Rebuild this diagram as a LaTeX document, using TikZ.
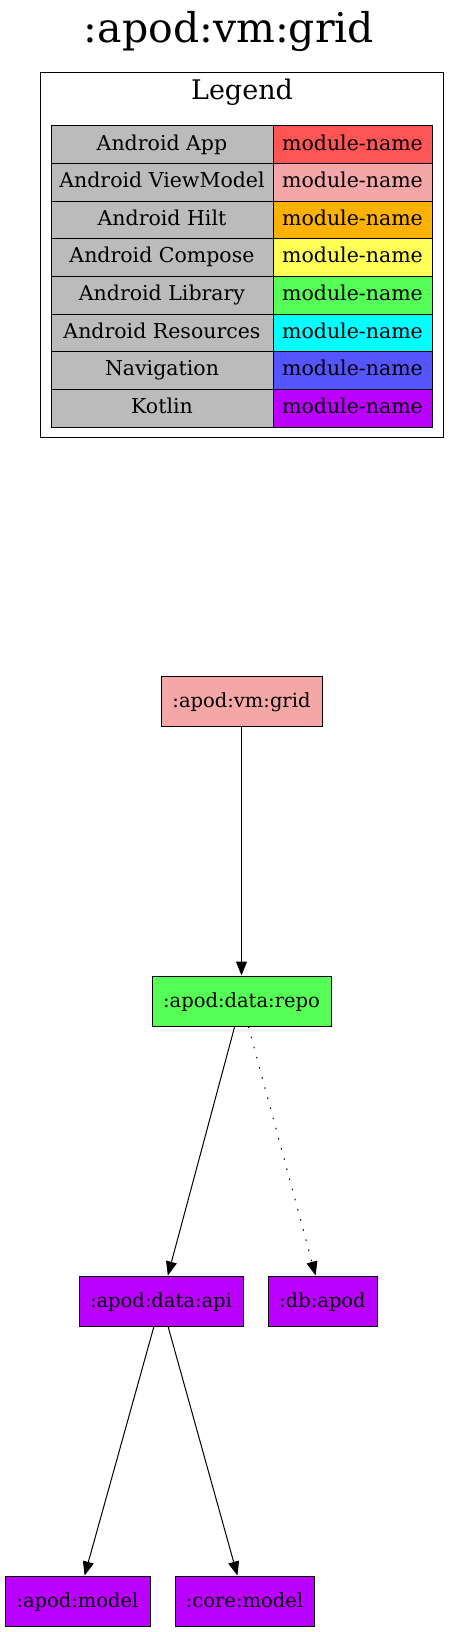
\documentclass[tikz,border=0pt]{standalone}
\usepackage{fontspec}
\setmainfont{DejaVu Serif}
\usetikzlibrary{arrows.meta}
\definecolor{cApp}{HTML}{FF5555}
\definecolor{cVM}{HTML}{F5A6A6}
\definecolor{cHilt}{HTML}{FCB103}
\definecolor{cCompose}{HTML}{FFFF55}
\definecolor{cLib}{HTML}{55FF55}
\definecolor{cRes}{HTML}{00FFFF}
\definecolor{cNav}{HTML}{5555FF}
\definecolor{cKotlin}{HTML}{BB00FF}
\definecolor{cGray}{HTML}{BBBBBB}
\tikzset{
  modbox/.style={draw=black, line width=1pt, inner sep=0pt, minimum height=50pt,
    font=\fontsize{19.5}{19.5}\selectfont, text height=15pt, text depth=3pt},
  cellbox/.style={draw=black, line width=1pt},
  celltext/.style={inner sep=0pt, font=\fontsize{20.5}{20.5}\selectfont, text height=15pt, text depth=4.5pt},
  edge/.style={draw=black, line width=1pt, -{Triangle[length=14pt, width=11pt]}},
  dotedge/.style={edge, dash pattern=on 1.5pt off 9pt},
}
\begin{document}
\begin{tikzpicture}[x=1pt, y=-1pt]
\useasboundingbox (0,0) rectangle (460,1632);
% title
\node[anchor=base, inner sep=0pt, font=\fontsize{41}{41}\selectfont] (title) at (229,43) {:apod:vm:grid};
% legend frame
\draw[line width=1pt] (40,73) rectangle (443,437);
\node[anchor=base, inner sep=0pt, font=\fontsize{27}{27}\selectfont] (legendtitle) at (242,100) {Legend};
% legend rows
\foreach \i/\lab/\col in {0/Android App/cApp, 1/Android ViewModel/cVM, 2/Android Hilt/cHilt,
  3/Android Compose/cCompose, 4/Android Library/cLib, 5/Android Resources/cRes,
  6/Navigation/cNav, 7/Kotlin/cKotlin} {
  \pgfmathsetmacro{\ytop}{126+37.625*\i}
  \pgfmathsetmacro{\ybot}{126+37.625*(\i+1)}
  \pgfmathsetmacro{\ymid}{126+37.625*(\i+0.5)}
  \draw[cellbox, fill=cGray] (51,\ytop) rectangle (273,\ybot);
  \draw[cellbox, fill=\col] (273,\ytop) rectangle (432,\ybot);
  \node[celltext] (lk\i) at (162,\ymid) {\lab};
  \node[celltext] (lv\i) at (352.5,\ymid) {module-name};
}
% modules
\node[modbox, fill=cVM, minimum width=161pt] (grid) at (241.5,701) {:apod:vm:grid};
\node[modbox, fill=cLib, minimum width=179pt] (repo) at (241.5,1001) {:apod:data:repo};
\node[modbox, fill=cKotlin, minimum width=164pt] (api) at (161,1301) {:apod:data:api};
\node[modbox, fill=cKotlin, minimum width=109pt] (db) at (322.5,1301) {:db:apod};
\node[modbox, fill=cKotlin, minimum width=145pt] (amodel) at (77.5,1601) {:apod:model};
\node[modbox, fill=cKotlin, minimum width=139pt] (cmodel) at (244.5,1601) {:core:model};
% edges
\draw[edge] (grid) -- (repo);
\draw[edge] (repo) -- (api);
\draw[dotedge] (repo) -- (db);
\draw[edge] (api) -- (amodel);
\draw[edge] (api) -- (cmodel);
\end{tikzpicture}
\end{document}
